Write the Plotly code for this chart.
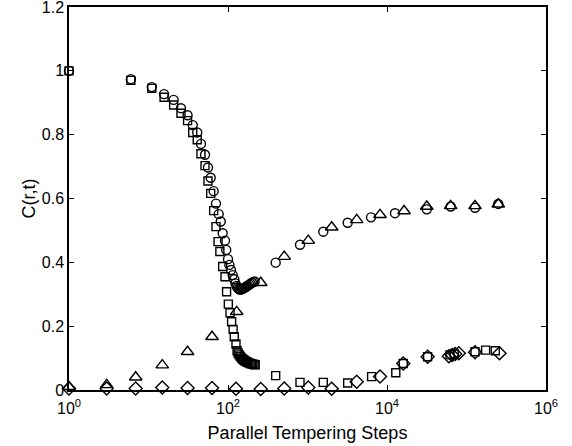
import plotly.graph_objects as go

# circles
circ_x = [1, 6, 11, 15.7, 20.7, 25.6, 31, 36, 41, 45.7, 51.4, 56, 60.6, 66, 70.6, 76.4, 81, 85.7,
          91.7, 95, 100, 104, 109, 114.5, 120, 124,
          128, 132, 136, 140, 145, 150, 155, 160, 166, 172, 178, 185, 192, 200, 208, 216,
          398, 805, 1580, 3200, 6290, 12600, 31600, 63200, 128000, 251000]
circ_y = [1.0, 0.974, 0.949, 0.927, 0.909, 0.883, 0.861, 0.830, 0.807, 0.771, 0.737, 0.697, 0.665,
          0.623, 0.584, 0.551, 0.528, 0.491, 0.468, 0.439, 0.410, 0.392, 0.376, 0.360, 0.347, 0.334,
          0.326, 0.320, 0.317, 0.315, 0.315, 0.316, 0.318, 0.320, 0.322, 0.325, 0.327, 0.330,
          0.333, 0.336, 0.338, 0.340,
          0.399, 0.455, 0.496, 0.524, 0.541, 0.554, 0.566, 0.575, 0.571, 0.583]

# squares
sq_x = [1, 6, 11, 15.7, 20.7, 25.6, 31, 36, 41, 45.7, 51.4, 56, 60.6, 66, 70.6, 75, 79, 85.7, 91.7,
        96, 101, 106, 111, 116, 120, 126, 130,
        134, 138, 143, 148, 153, 158, 164, 170, 176, 183, 190, 197, 205, 213, 220,
        398, 805, 1580, 3200, 6400, 12900, 16000, 32400, 62000, 70000, 128000, 174000, 230000]
sq_y = [1.0, 0.97, 0.945, 0.917, 0.893, 0.867, 0.844, 0.807, 0.784, 0.740, 0.703, 0.655, 0.616,
        0.562, 0.512, 0.465, 0.434, 0.387, 0.355, 0.308, 0.269, 0.242, 0.214, 0.190, 0.167, 0.144,
        0.123, 0.116, 0.110, 0.105, 0.100, 0.097, 0.094, 0.091, 0.089, 0.087, 0.085, 0.083,
        0.082, 0.081, 0.080, 0.079,
        0.045, 0.024, 0.024, 0.022, 0.042, 0.054, 0.083, 0.104, 0.110, 0.113, 0.120, 0.125, 0.123]

# triangles
tri_x = [1, 2.98, 6.9, 14.9, 31, 63, 128.5, 258, 510, 1023, 2015, 4160, 8170, 16400,
         31600, 63200, 128000, 251000]
tri_y = [0.01, 0.016, 0.04, 0.078, 0.12, 0.167, 0.245, 0.336, 0.418, 0.468, 0.510, 0.533,
         0.549, 0.561, 0.575, 0.577, 0.577, 0.582]

# diamonds
dia_x = [1, 2.98, 6.9, 14.9, 31, 63, 126, 258, 510, 1023, 2015, 4160, 8170, 16000, 32500,
         60000, 66000, 72000, 80000, 128000, 260000]
dia_y = [0.005, 0.005, 0.005, 0.008, 0.006, 0.006, 0.004, 0.003, 0.005, 0.008, 0.004, 0.026,
         0.042, 0.083, 0.104, 0.106, 0.110, 0.113, 0.115, 0.118, 0.115]

x_ticks = [1, 100, 10000, 1000000]
x_tick_text = ["10<sup>0</sup>", "10<sup>2</sup>", "10<sup>4</sup>", "10<sup>6</sup>"]

fig = go.Figure()
for xs, ys, sym, sz in [(circ_x, circ_y, "circle-open", 9),
                        (sq_x, sq_y, "square-open", 8),
                        (tri_x, tri_y, "triangle-up-open", 11),
                        (dia_x, dia_y, "diamond-open", 10)]:
    fig.add_trace(go.Scatter(x=xs, y=ys, mode="markers", cliponaxis=False,
                             marker=dict(symbol=sym, size=sz, color="black",
                                         line=dict(color="black", width=1.4))))

axis_style = dict(showline=True, linecolor="black", linewidth=1.5, mirror="ticks",
                  ticks="inside", ticklen=5, tickcolor="black", showgrid=False,
                  zeroline=False, automargin=False, ticklabeloverflow="allow",
                  tickfont=dict(size=16, color="black"))

fig.update_xaxes(type="log", range=[0, 6], tickvals=x_ticks, ticktext=x_tick_text,
                 ticklabelstandoff=3,
                 title=dict(text="Parallel Tempering Steps", font=dict(size=18, color="black"),
                            standoff=10),
                 **axis_style)
fig.update_yaxes(range=[0, 1.2], dtick=0.2, tick0=0,
                 title=dict(text="C(r,t)", font=dict(size=18, color="black"), standoff=1),
                 **axis_style)

fig.update_layout(width=572, height=446, showlegend=False,
                  margin=dict(l=69, r=26, t=7, b=56),
                  paper_bgcolor="white", plot_bgcolor="white",
                  font=dict(family="Liberation Sans, Arial, sans-serif", color="black"))

# page has a default 8px body margin; drop it so the figure sits at the window origin
fig.write_html("out.html", config={"displayModeBar": False},
               post_script="document.body.style.margin='0';")
